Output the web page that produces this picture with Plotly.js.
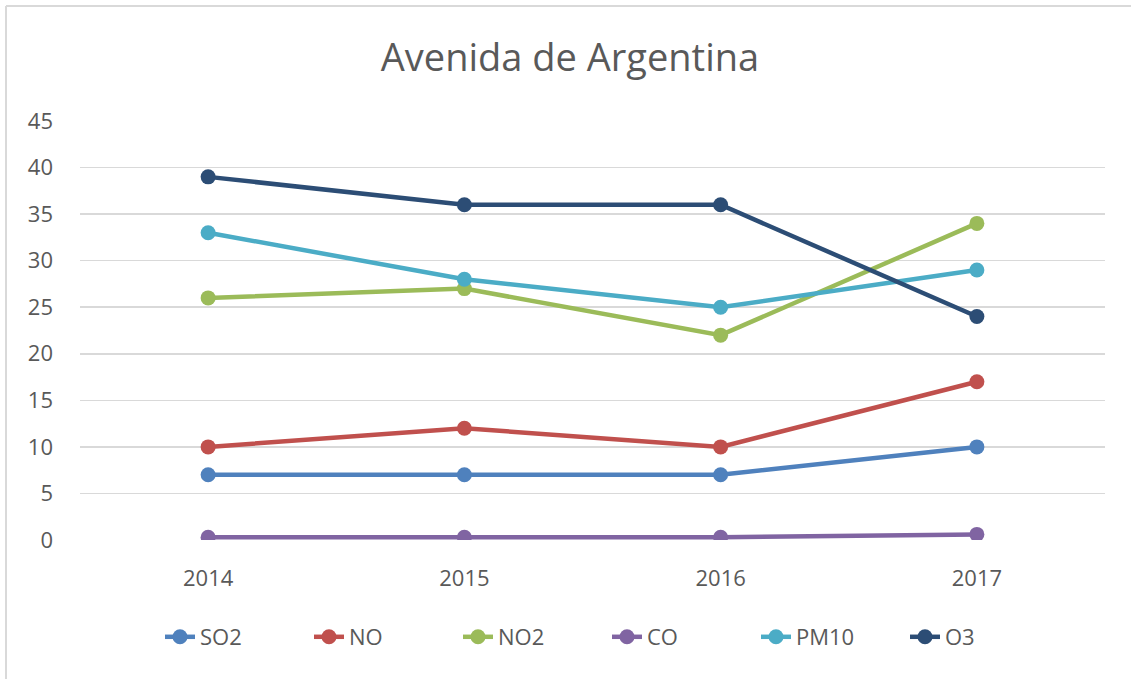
<!DOCTYPE html>
<html>
<head>
<meta charset="utf-8">
<script src="https://cdn.plot.ly/plotly-3.0.1.min.js"></script>
<style>html,body{margin:0;padding:0;background:#fff;}#chart{width:1131px;height:679px;}</style>
</head>
<body>
<div id="chart"></div>
<script>
const years = ['2014', '2015', '2016', '2017'];
const so2 = [7, 7, 7, 10];
const no = [10, 12, 10, 17];
const no2 = [26, 27, 22, 34];
const co = [0.3, 0.3, 0.3, 0.6];
const pm10 = [33, 28, 25, 29];
const o3 = [39, 36, 36, 24];
const seriesNames = ['SO2', 'NO', 'NO2', 'CO', 'PM10', 'O3'];
const seriesValues = [so2, no, no2, co, pm10, o3];
const colors = ['#4f81bd', '#c0504d', '#9bbb59', '#8064a2', '#4bacc6', '#2c4d75'];

const traces = seriesNames.map((n, i) => ({
  type: 'scatter', mode: 'lines+markers', name: n,
  x: years, y: seriesValues[i],
  line: {color: colors[i], width: 4.5},
  marker: {color: colors[i], size: 15}
}));

const px = v => (v - 80) / 1025;
const py = v => (540 - v) / 419;

const layout = {
  width: 1131, height: 679,
  margin: {l: 80, r: 26, t: 121, b: 139},
  paper_bgcolor: '#ffffff', plot_bgcolor: '#ffffff',
  font: {family: '"Open Sans", "Noto Sans", sans-serif', color: '#595959', size: 22},
  title: {text: 'Avenida de Argentina', font: {size: 38, color: '#595959'},
          x: 570 / 1131, xanchor: 'center', xref: 'container',
          y: 1 - 58 / 679, yanchor: 'middle', yref: 'container'},
  xaxis: {type: 'category', range: [-0.5, 3.5], showgrid: false, zeroline: false,
          showline: false, ticks: '', ticklabelstandoff: 23, tickfont: {size: 22, color: '#595959'}},
  yaxis: {range: [0, 45], dtick: 5, tick0: 0, showgrid: true, gridcolor: '#d9d9d9', gridwidth: 1.5,
          zeroline: false, showline: false, ticks: '', ticklabelstandoff: 26,
          tickfont: {size: 22, color: '#595959'}},
  showlegend: true,
  legend: {orientation: 'h', xref: 'container', yref: 'container', x: 607 / 1131, xanchor: 'center',
           y: 1 - 637 / 679, yanchor: 'middle', font: {size: 22, color: '#595959'},
           entrywidth: 104, traceorder: 'normal'},
  shapes: [
    {type: 'line', xref: 'paper', yref: 'paper', x0: px(6), x1: px(6), y0: py(6), y1: py(690),
     line: {color: '#d9d9d9', width: 2}},
    {type: 'line', xref: 'paper', yref: 'paper', x0: px(6), x1: px(1140), y0: py(6), y1: py(6),
     line: {color: '#d9d9d9', width: 2}}
  ]
};

Plotly.newPlot('chart', traces, layout, {displayModeBar: false, staticPlot: true});
</script>
</body>
</html>
